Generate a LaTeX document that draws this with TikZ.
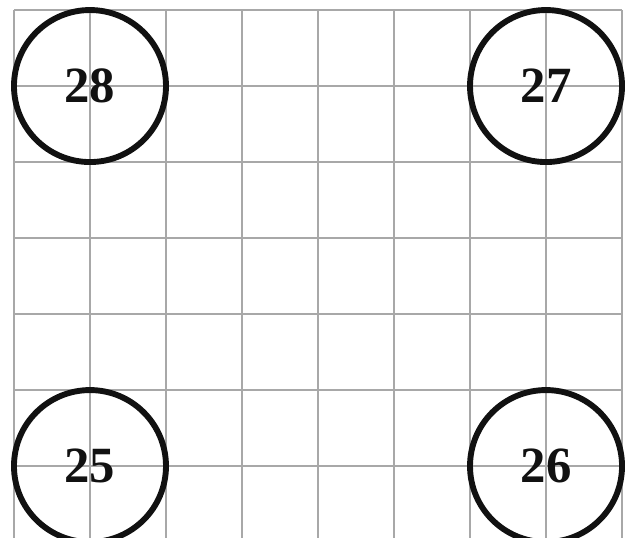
\documentclass[tikz,border=0pt]{standalone}
\usepackage{fontspec}
\setmainfont{Liberation Serif}
\usepackage{tikz}
\usetikzlibrary{shapes.geometric, positioning}
\definecolor{negro}{HTML}{111111}
\definecolor{grismalla}{HTML}{A8A8A8}
\tikzset{
  ficha/.style={circle, minimum size=2cm, inner sep=0pt, draw=negro, line width=2.2pt,
                text=negro, font=\fontsize{19}{20}\selectfont\bfseries},
  malla/.style={draw=grismalla, line width=0.7pt}
}

\begin{document}
\begin{tikzpicture}
  \useasboundingbox (-0.184,0.066) rectangle (8.105,7.132);
  \clip (-0.184,0.066) rectangle (8.105,7.132);
  \draw [malla] (0,0) grid (8,7);
  \node (f28) [ficha] at (1,6) {28};
  \node (f27) [ficha] at (7,6) {27};
  \node (f25) [ficha] at (1,1) {25};
  \node (f26) [ficha] at (7,1) {26};
\end{tikzpicture}
\end{document}
